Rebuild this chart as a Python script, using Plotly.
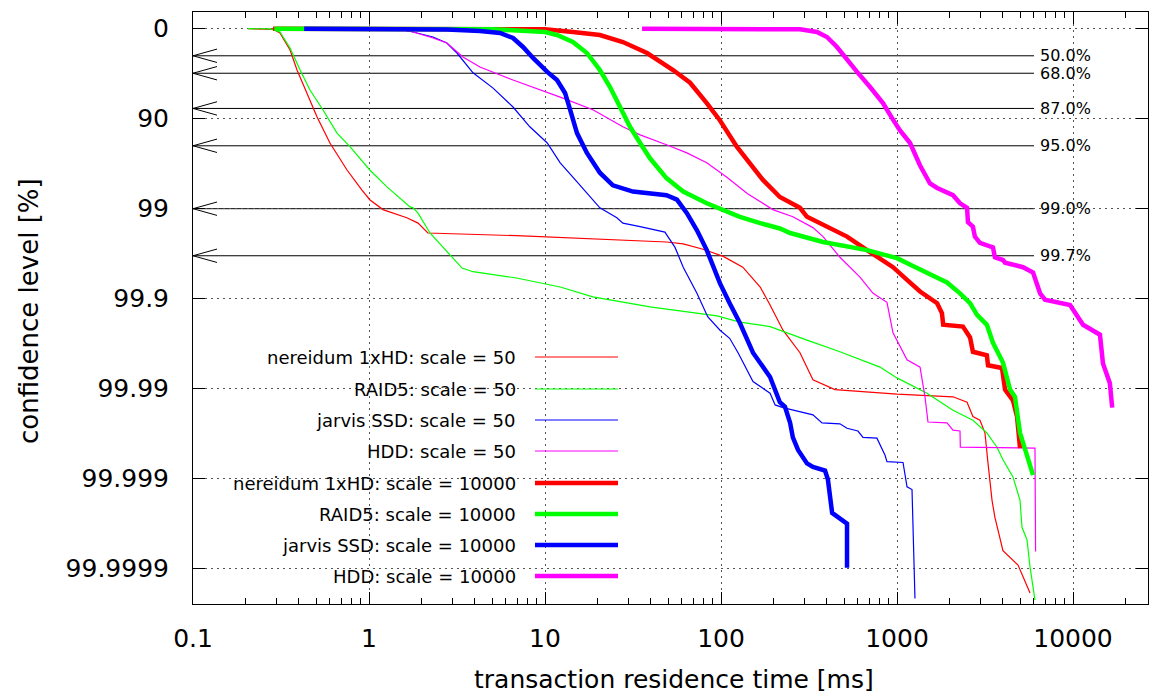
import numpy as np
import plotly.graph_objects as go

# Residence time [ms] against confidence level, the level given as "nines":
# 0 -> 0 %, 1 -> 90 %, 2 -> 99 %, 3 -> 99.9 %, ...

nereidum50_ms = [0.205, 0.274, 0.285, 0.312, 0.356, 0.39, 0.445, 0.507, 0.60, 0.75, 0.91, 1.01, 1.2, 1.64,
                 1.90, 2.16, 6.9, 25.6, 49, 61, 79, 103, 133, 167, 190, 225, 281, 333, 444, 1000, 2080,
                 2500, 2700, 2960, 3160, 3290, 3467, 3600, 4000, 4870, 5700]
nereidum50_nines = [0, 0.003, 0.007, 0.048, 0.237, 0.459, 0.714, 0.981, 1.27, 1.57, 1.79, 1.90, 2.01, 2.10,
                    2.16, 2.27, 2.30, 2.35, 2.37, 2.39, 2.45, 2.53, 2.65, 2.87, 3.07, 3.35, 3.60, 3.90, 4.01,
                    4.06, 4.09, 4.15, 4.31, 4.35, 4.49, 4.83, 5.24, 5.43, 5.80, 5.96, 6.27]

raid50_ms = [0.205, 0.274, 0.312, 0.356, 0.406, 0.462, 0.548, 0.658, 0.78, 1.01, 1.27, 1.32, 1.71, 1.78,
             1.90, 2.22, 2.77, 3.38, 3.90, 6.9, 12.2, 18.7, 39.5, 95, 128, 190, 308, 474, 800, 1000, 1480,
             2080, 2700, 3240, 3700, 4000, 4560, 5000, 5130, 5480, 5700, 6080]
raid50_nines = [0, 0.003, 0.037, 0.214, 0.459, 0.681, 0.903, 1.16, 1.31, 1.57, 1.76, 1.79, 1.98, 1.99,
                2.05, 2.27, 2.48, 2.66, 2.70, 2.77, 2.87, 2.98, 3.09, 3.19, 3.26, 3.31, 3.46, 3.59, 3.76,
                3.88, 4.05, 4.24, 4.35, 4.49, 4.65, 4.79, 4.98, 5.24, 5.54, 5.68, 5.98, 6.35]

ssd50_ms = [0.3, 1.44, 1.78, 2.31, 2.77, 3.16, 3.90, 5.07, 6.58, 8.2, 10.3, 12.2, 14.4, 20.5, 25.6, 27.7,
            34.7, 48, 54.8, 61, 73, 84, 98.7, 112, 125, 152, 190, 203, 225, 333, 375, 474, 520, 600, 641,
            769, 855, 877, 1082, 1140, 1217, 1265]
ssd50_nines = [0, 0, 0.037, 0.092, 0.159, 0.27, 0.49, 0.66, 0.87, 1.09, 1.27, 1.49, 1.65, 1.99, 2.10, 2.16,
               2.20, 2.26, 2.43, 2.65, 2.94, 3.20, 3.35, 3.44, 3.60, 3.92, 4.05, 4.18, 4.21, 4.29, 4.38,
               4.39, 4.44, 4.47, 4.54, 4.55, 4.74, 4.81, 4.82, 5.09, 5.12, 6.33]

hdd50_ms = [0.3, 1.44, 1.78, 2.31, 2.77, 3.42, 4.27, 6.58, 12.2, 13.3, 18.7, 27.7, 34.7, 49, 64, 83, 108,
            141, 197, 256, 333, 380, 474, 616, 731, 877, 949, 1140, 1352, 1442, 1500, 1924, 2080, 2280,
            2290, 6080, 6130]
hdd50_nines = [0, 0, 0.037, 0.103, 0.159, 0.314, 0.426, 0.57, 0.76, 0.79, 0.90, 1.09, 1.18, 1.29, 1.38,
               1.49, 1.65, 1.83, 2.01, 2.09, 2.21, 2.31, 2.54, 2.76, 2.94, 3.04, 3.38, 3.68, 3.76, 4.09,
               4.37, 4.38, 4.46, 4.47, 4.65, 4.66, 5.81]

nereidum10k_ms = [0.285, 10, 14.4, 20.5, 27.7, 38, 53.4, 66.7, 83, 98.7, 123, 146, 173, 216, 281, 308, 400,
                  520, 676, 949, 1140, 1352, 1690, 1800, 1830, 2370, 2600, 2700, 3240, 3290, 3950, 4110,
                  4560, 4810, 5000]
nereidum10k_nines = [0, 0.007, 0.037, 0.07, 0.148, 0.27, 0.459, 0.60, 0.826, 1.02, 1.31, 1.49, 1.68, 1.87,
                     1.99, 2.09, 2.20, 2.31, 2.46, 2.65, 2.79, 2.92, 3.05, 3.16, 3.29, 3.31, 3.43, 3.59,
                     3.63, 3.74, 3.77, 4.01, 4.13, 4.31, 4.66]

raid10k_ms = [0.29, 5, 10, 11.7, 14.4, 17.3, 20.5, 23.4, 26.7, 30.4, 34.7, 39.5, 49, 61, 83, 128, 167, 216,
              247, 380, 676, 1000, 1300, 1600, 1924, 2280, 2600, 2850, 3240, 3510, 4000, 4390, 4680, 5000,
              5930]
raid10k_nines = [0, 0.005, 0.037, 0.07, 0.148, 0.27, 0.459, 0.648, 0.87, 1.09, 1.27, 1.44, 1.66, 1.81,
                 1.94, 2.09, 2.16, 2.22, 2.27, 2.37, 2.46, 2.55, 2.66, 2.74, 2.82, 2.94, 3.05, 3.18, 3.29,
                 3.49, 3.71, 4.01, 4.09, 4.49, 4.96]

ssd10k_ms = [0.428, 2.77, 4.27, 5.55, 6.58, 7.5, 8.55, 9.75, 10.3, 11.7, 13.0, 13.9, 15.2, 17.3, 20.5, 24.3,
             31.6, 49, 56.2, 64, 73, 83, 98.7, 112, 128, 152, 190, 216, 231, 247, 256, 274, 308, 333, 390,
             405, 428, 520, 520]
ssd10k_nines = [0, 0.01, 0.026, 0.048, 0.103, 0.203, 0.325, 0.437, 0.48, 0.57, 0.714, 0.903, 1.16, 1.38,
                1.60, 1.74, 1.81, 1.85, 1.90, 2.05, 2.24, 2.46, 2.83, 3.05, 3.27, 3.60, 3.87, 4.15, 4.20,
                4.38, 4.54, 4.68, 4.83, 4.87, 4.91, 5.01, 5.38, 5.50, 5.99]

hdd10k_ms = [35.6, 281, 351, 400, 456, 520, 593, 703, 832, 949, 1040, 1186, 1352, 1540, 1690, 2080, 2280,
             2500, 2530, 2700, 2770, 2960, 3510, 3600, 4000, 4110, 5200, 5930, 6240, 6500, 6930, 9620,
             11400, 14230, 14800, 16200, 16700]
hdd10k_nines = [0, 0.007, 0.037, 0.092, 0.203, 0.348, 0.48, 0.648, 0.826, 1.01, 1.13, 1.27, 1.52, 1.72,
                1.77, 1.85, 1.94, 1.99, 2.15, 2.20, 2.31, 2.38, 2.43, 2.54, 2.57, 2.60, 2.65, 2.71, 2.83,
                2.94, 3.01, 3.07, 3.29, 3.40, 3.72, 3.94, 4.21]

series_names = ["nereidum 1xHD: scale = 50", "RAID5: scale = 50", "jarvis SSD: scale = 50",
                "HDD: scale = 50", "nereidum 1xHD: scale = 10000", "RAID5: scale = 10000",
                "jarvis SSD: scale = 10000", "HDD: scale = 10000"]
series_x = [nereidum50_ms, raid50_ms, ssd50_ms, hdd50_ms,
            nereidum10k_ms, raid10k_ms, ssd10k_ms, hdd10k_ms]
series_y = [nereidum50_nines, raid50_nines, ssd50_nines, hdd50_nines,
            nereidum10k_nines, raid10k_nines, ssd10k_nines, hdd10k_nines]
series_colors = ["#ff0000", "#00ff00", "#0000ff", "#ff00ff"] * 2
series_widths = [1.2] * 4 + [4.5] * 4

# reference confidence levels marked by arrows
ref_levels = [50.0, 68.0, 87.0, 95.0, 99.0, 99.7]

x_ticks = [0.1, 1, 10, 100, 1000, 10000]
x_ticktext = ["0.1", "1", "10", "100", "1000", "10000"]
y_ticks = [0, 1, 2, 3, 4, 5, 6]
y_ticktext = ["0", "90", "99", "99.9", "99.99", "99.999", "99.9999"]

FONT = "DejaVu Sans"
W, H = 1150, 695
L, R, T, B = 193, 2, 12, 91
PW, PH = W - L - R, H - T - B


def px(xp):
    return (xp - L) / PW


def py(yp):
    return 1 - (yp - T) / PH


fig = go.Figure()
for name, xs, ys, c, w in zip(series_names, series_x, series_y, series_colors, series_widths):
    fig.add_trace(go.Scatter(x=xs, y=ys, mode="lines", name=name,
                             line=dict(color=c, width=w), showlegend=False))

shapes = []
annotations = []

# opaque key box
shapes.append(dict(type="rect", xref="paper", yref="paper", x0=px(208), x1=px(633),
                   y0=py(592), y1=py(342), fillcolor="white", line=dict(width=0), layer="between"))

# arrows at the reference levels
line_end = px(1034)
head_len = 24 / PW
head_half = 6.7 / 90.0
for lev in ref_levels:
    n = -np.log10(1 - lev / 100.0)
    shapes.append(dict(type="line", xref="paper", yref="y", x0=0, x1=line_end, y0=n, y1=n,
                       line=dict(color="black", width=1), layer="between"))
    shapes.append(dict(type="path", xref="paper", yref="y",
                       path=f"M {head_len},{n - head_half} L 0,{n} L {head_len},{n + head_half}",
                       line=dict(color="black", width=1), layer="between"))
    annotations.append(dict(xref="paper", yref="y", x=px(1039), y=n, text=f"{lev:.1f}%",
                            showarrow=False, xanchor="left", yanchor="middle", borderpad=0,
                            font=dict(family=FONT, size=16, color="black")))

# key entries: text right-aligned, line sample to the right
key_rows = [357, 389, 420, 451, 483, 514, 545, 576]
for name, c, w, yr in zip(series_names, series_colors, series_widths, key_rows):
    annotations.append(dict(xref="paper", yref="paper", x=px(518), y=py(yr), text=name,
                            showarrow=False, xanchor="right", yanchor="middle",
                            font=dict(family=FONT, size=18, color="black")))
    shapes.append(dict(type="line", xref="paper", yref="paper", x0=px(535), x1=px(618),
                       y0=py(yr), y1=py(yr), line=dict(color=c, width=w), layer="above"))

# axis titles
annotations.append(dict(xref="paper", yref="paper", x=px(674), y=py(679),
                        text="transaction residence time [ms]", showarrow=False,
                        xanchor="center", yanchor="middle", borderpad=0,
                        font=dict(family=FONT, size=25, color="black")))
annotations.append(dict(xref="paper", yref="paper", x=px(29), y=py(311),
                        text="confidence level [%]", showarrow=False, textangle=-90,
                        xanchor="center", yanchor="middle",
                        font=dict(family=FONT, size=26, color="black")))

minor_x = [m * 10.0 ** e for e in range(-1, 5) for m in range(2, 10)]

grid_style = dict(showgrid=True, gridcolor="#555555", gridwidth=1, griddash="2px,4px")

fig.update_layout(
    width=W, height=H,
    margin=dict(l=L, r=R, t=T, b=B, pad=0),
    paper_bgcolor="white", plot_bgcolor="white",
    showlegend=False,
    font=dict(family=FONT, color="black"),
    shapes=shapes, annotations=annotations,
    xaxis=dict(type="log", range=[-1, np.log10(10 ** (-1 + PW / 176.0))],
               tickmode="array", tickvals=x_ticks, ticktext=x_ticktext,
               ticks="inside", ticklen=12, tickwidth=1, tickcolor="black",
               showline=True, linecolor="black", linewidth=1, mirror="ticks",
               zeroline=False, tickfont=dict(family=FONT, size=25, color="black"),
               ticklabelstandoff=12,
               minor=dict(tickmode="array", tickvals=minor_x, ticks="inside", ticklen=6,
                          tickwidth=1, tickcolor="black", showgrid=False),
               **grid_style),
    yaxis=dict(range=[(H - B - 28.7) / 90.0, (T - 28.7) / 90.0],
               tickmode="array", tickvals=y_ticks, ticktext=y_ticktext,
               ticks="inside", ticklen=12, tickwidth=1, tickcolor="black",
               showline=True, linecolor="black", linewidth=1, mirror="ticks",
               zeroline=False, tickfont=dict(family=FONT, size=25, color="black"),
               ticklabelstandoff=18,
               **grid_style),
)

fig.write_html("out.html")
